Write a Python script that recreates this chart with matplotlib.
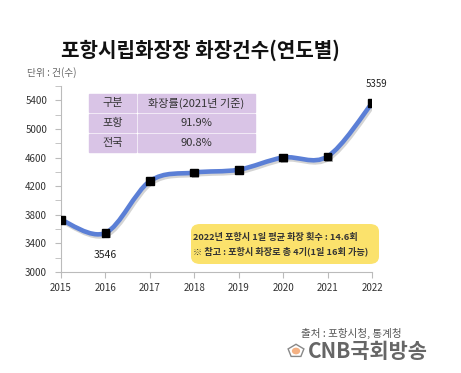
import numpy as np
import matplotlib.pyplot as plt
import matplotlib.patheffects as pe
from matplotlib.path import Path
from matplotlib.patches import PathPatch, FancyBboxPatch, Circle, RegularPolygon

plt.rcParams['font.family'] = ['Noto Sans CJK KR', 'DejaVu Sans']

# data
years = [2015, 2016, 2017, 2018, 2019, 2020, 2021, 2022]
counts = [3730, 3546, 4270, 4390, 4430, 4600, 4615, 5359]
table_rows = [["구분", "화장률(2021년 기준)"], ["포항", "91.9%"], ["전국", "90.8%"]]
note_lines = ["2022년 포항시 1일 평균 화장 횟수 : 14.6회",
              "※ 참고 : 포항시 화장로 총 4기(1일 16회 가능)"]

fig = plt.figure(figsize=(4.61, 3.73), dpi=100)
ax = fig.add_axes([61/461, 1 - 272/373, (372 - 61)/461, (272 - 86)/373])

# smooth curve through points (Catmull-Rom as cubic bezier)
x = np.array(years, dtype=float)
y = np.array(counts, dtype=float)
verts = [(x[0], y[0])]
codes = [Path.MOVETO]
for i in range(len(x) - 1):
    p0 = np.array([x[max(i - 1, 0)], y[max(i - 1, 0)]])
    p1 = np.array([x[i], y[i]])
    p2 = np.array([x[i + 1], y[i + 1]])
    p3 = np.array([x[min(i + 2, len(x) - 1)], y[min(i + 2, len(x) - 1)]])
    c1 = p1 + (p2 - p0) / 6
    c2 = p2 - (p3 - p1) / 6
    verts += [tuple(c1), tuple(c2), tuple(p2)]
    codes += [Path.CURVE4] * 3
curve = PathPatch(Path(verts, codes), fill=False, edgecolor='#5b7fd6', lw=3.3,
                  capstyle='round', zorder=2,
                  path_effects=[pe.SimpleLineShadow(offset=(1, -1.5), shadow_color='#555555', alpha=0.25),
                                pe.Normal()])
ax.add_patch(curve)
ax.plot(years, counts, 's', color='black', ms=5.5, zorder=3,
        path_effects=[pe.SimplePatchShadow(offset=(1, -1), alpha=0.3), pe.Normal()])

ax.set_xlim(2015, 2022)
ax.set_ylim(3000, 5600)
ax.set_yticks(np.arange(3000, 5401, 400))
ax.set_yticks(np.arange(3000, 5601, 200), minor=True)
ax.set_xticks(years)
ax.tick_params(axis='both', labelsize=7, colors='#bbbbbb', labelcolor='#333333', length=4, width=0.8)
ax.tick_params(axis='y', which='minor', length=4, colors='#bbbbbb')
ax.tick_params(axis='y', pad=6)
ax.tick_params(axis='x', pad=4)
for s in ['top', 'right']:
    ax.spines[s].set_visible(False)
ax.spines['left'].set_color('#bbbbbb')
ax.spines['bottom'].set_color('#bbbbbb')
ax.patch.set_alpha(0)

ax.annotate(f"{counts[-1]}", (years[-1], counts[-1]), xytext=(3, 10), textcoords='offset points',
            ha='center', va='bottom', fontsize=7, color='#222222')
ax.annotate(f"{counts[1]}", (years[1], counts[1]), xytext=(0, -12), textcoords='offset points',
            ha='center', va='top', fontsize=7.5, color='#222222')

# rate table
col_x = [89, 137, 255]
row_y = [93, 113, 133, 153]
for r, row in enumerate(table_rows):
    for c, txt in enumerate(row):
        x0, x1 = col_x[c] + (1 if c else 0), col_x[c + 1] - (1 if c == 0 else 0)
        y0, y1 = row_y[r] + 1, row_y[r + 1] - 1
        fig.patches.append(plt.Rectangle((x0/461, 1 - y1/373), (x1 - x0)/461, (y1 - y0)/373,
                                         transform=fig.transFigure, color='#d9c4e6', zorder=1))
        fig.text((x0 + x1)/2/461, 1 - (y0 + y1)/2/373, txt, ha='center', va='center',
                 fontsize=8, color='#333333', zorder=2)

# yellow note box
box = FancyBboxPatch((191/461, 1 - 264/373), (379 - 191)/461, (264 - 224)/373,
                     boxstyle='round,pad=0,rounding_size=0.02', transform=fig.transFigure,
                     facecolor='#fbe26c', edgecolor='none', zorder=1)
fig.patches.append(box)
fig.text(193/461, 1 - 237/373, note_lines[0], fontsize=6.6, fontweight='bold', color='#333333', va='center')
fig.text(193/461, 1 - 251/373, note_lines[1], fontsize=6.6, fontweight='bold', color='#333333', va='center')

fig.text(200/461, 1 - 50/373, "포항시립화장장 화장건수(연도별)", ha='center', va='center',
         fontsize=14.5, fontweight='bold', color='#111111')
fig.text(27/461, 1 - 73/373, "단위 : 건(수)", ha='left', va='center', fontsize=7, color='#666666')
fig.text(402/461, 1 - 333/373, "출처 : 포항시청, 통계청", ha='right', va='center', fontsize=7.6, color='#555555')
fig.text(308/461, 1 - 351/373, "CNB국회방송", ha='left', va='center', fontsize=15, fontweight='bold', color='#666666')
fig.patches.append(RegularPolygon((296/461, 1 - 351/373), 5, radius=0.018, transform=fig.transFigure,
                                  facecolor='none', edgecolor='#888888', lw=1))
fig.patches.append(Circle((296/461, 1 - 351/373), 0.009, transform=fig.transFigure,
                          facecolor='#f4b183', edgecolor='none'))

fig.savefig('out.png', dpi=100, facecolor='white')
